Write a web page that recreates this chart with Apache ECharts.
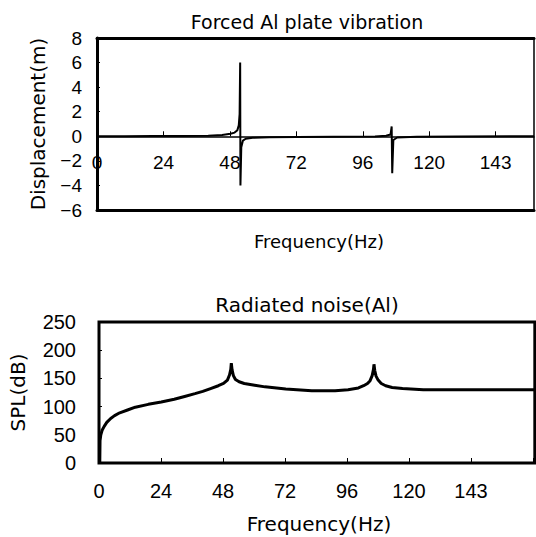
<!DOCTYPE html>
<html>
<head>
<meta charset="utf-8">
<script src="https://cdn.jsdelivr.net/npm/echarts@6/dist/echarts.min.js"></script>
<style>
html,body{margin:0;padding:0;background:#fff;}
#chart{width:536px;height:537px;}
</style>
</head>
<body>
<div id="chart"></div>
<script>
// ---- data ----
const xTickLabels = ['0', '24', '48', '72', '96', '120', '143'];
const xStep = 23.9;

const topYLabels = ['\u22126', '\u22124', '\u22122', '0', '2', '4', '6', '8'];
const bottomYLabels = ['0', '50', '100', '150', '200', '250'];

// Forced Al plate vibration: displacement (m) vs frequency (Hz)
const topFreq = [0, 10, 20, 30, 40, 45, 48, 49.5, 50.5, 51.0, 51.3, 51.5, 51.6, 51.9, 52.5, 53.5, 56, 62, 72, 85, 100, 104, 105.6, 106.0, 106.2, 106.6, 108, 115, 130, 157.2];
const topDisp = [0, 0.01, 0.02, 0.03, 0.05, 0.1, 0.2, 0.3, 0.5, 0.9, 1.8, 6.0, -4.0, -0.9, -0.35, -0.2, -0.12, -0.08, -0.05, -0.03, -0.01, 0.05, 0.15, 0.8, -3.0, -0.3, -0.1, -0.04, -0.02, 0];

// Radiated noise (Al): SPL (dB) vs frequency (Hz)
const splFreq = [0.3, 0.4, 0.7, 1.2, 2, 3, 4.5, 6, 8, 11, 14, 19, 24, 29, 33, 37, 40, 43, 46, 48, 49.5, 50.3, 50.8, 51.0, 51.3, 51.8, 52.6, 54, 56, 60, 64, 72, 82, 91, 96, 100, 102, 103.5, 104.5, 105.3, 105.8, 106.0, 106.3, 106.8, 107.6, 108.8, 110.5, 113, 117, 125, 140, 168];
const splDb   = [0, 40, 50, 58, 65, 72, 79, 84, 89, 94, 99, 104, 108, 113, 118, 123, 127, 132, 137, 141, 147, 156, 166, 177, 165, 155, 148, 144, 141, 138, 135, 131, 128, 128, 130, 133, 137, 141, 146, 155, 166, 175, 164, 154, 147, 141, 137, 134, 132, 130, 130, 130];

// ---- helpers ----
function xLabel(v) {
  const idx = Math.round(v / xStep);
  if (Math.abs(v / xStep - idx) > 0.01) return '';
  return xTickLabels[idx] !== undefined ? xTickLabels[idx] : '';
}
const tickFont = 'Liberation Sans';
const nameFont = 'DejaVu Sans';

const chart = echarts.init(document.getElementById('chart'), null, {renderer: 'svg'});

const option = {
  animation: false,
  backgroundColor: '#fff',
  grid: [
    {left: 97, right: 2, top: 38, bottom: 327, show: true, borderColor: '#000', borderWidth: 1.5},
    {left: 97, right: -28, top: 322, bottom: 74, show: true, borderColor: '#000', borderWidth: 3}
  ],
  xAxis: [
    { // zero-line axis with labels (top chart); moved onto y = 0 below
      type: 'value', gridIndex: 0, min: 0, max: 157.2, interval: xStep, offset: 0,
      axisLine: {show: true, onZero: false, lineStyle: {color: '#000', width: 1.5}},
      axisTick: {show: true, inside: true, length: 5, lineStyle: {color: '#000', width: 1}},
      axisLabel: {show: true, margin: 17, color: '#000', fontSize: 19, fontFamily: tickFont, formatter: xLabel, showMaxLabel: false},
      splitLine: {show: false}
    },
    { // top frame line
      type: 'value', gridIndex: 0, position: 'top', min: 0, max: 157.2,
      axisLine: {show: true, onZero: false, lineStyle: {color: '#000', width: 3}},
      axisTick: {show: false}, axisLabel: {show: false}, splitLine: {show: false}
    },
    { // bottom frame line
      type: 'value', gridIndex: 0, position: 'bottom', min: 0, max: 157.2,
      axisLine: {show: true, onZero: false, lineStyle: {color: '#000', width: 3}},
      axisTick: {show: false}, axisLabel: {show: false}, splitLine: {show: false}
    },
    { // bottom chart x axis
      type: 'value', gridIndex: 1, min: 0, max: 168, interval: xStep,
      axisLine: {show: false},
      axisTick: {show: true, inside: true, length: 5, lineStyle: {color: '#000', width: 1}},
      axisLabel: {show: true, margin: 18, color: '#000', fontSize: 20, fontFamily: tickFont, formatter: xLabel, showMaxLabel: false},
      splitLine: {show: false}
    }
  ],
  yAxis: [
    {
      type: 'value', gridIndex: 0, min: -6, max: 8, interval: 2,
      name: 'Displacement(m)', nameLocation: 'middle', nameRotate: 90, nameGap: 49,
      nameTextStyle: {color: '#000', fontSize: 20, fontFamily: nameFont},
      axisLine: {show: true, onZero: false, lineStyle: {color: '#000', width: 3}},
      axisTick: {show: true, inside: true, length: 3, lineStyle: {color: '#000', width: 1}},
      axisLabel: {show: true, margin: 15, color: '#000', fontSize: 19, fontFamily: tickFont,
        formatter: v => topYLabels[Math.round((v + 6) / 2)] || ''},
      splitLine: {show: false}
    },
    {
      type: 'value', gridIndex: 1, min: 0, max: 250, interval: 50,
      name: 'SPL(dB)', nameLocation: 'middle', nameRotate: 90, nameGap: 71,
      nameTextStyle: {color: '#000', fontSize: 20, fontFamily: nameFont},
      axisLine: {show: false},
      axisTick: {show: true, inside: true, length: 3, lineStyle: {color: '#000', width: 1}},
      axisLabel: {show: true, margin: 23, color: '#000', fontSize: 20, fontFamily: tickFont,
        formatter: v => bottomYLabels[Math.round(v / 50)] || ''},
      splitLine: {show: false}
    }
  ],
  series: [
    {
      type: 'line', xAxisIndex: 0, yAxisIndex: 0, showSymbol: false, symbol: 'none',
      lineStyle: {color: '#000', width: 2}, z: 5,
      data: topFreq.map((f, i) => [f, topDisp[i]])
    },
    {
      type: 'line', xAxisIndex: 3, yAxisIndex: 1, showSymbol: false, symbol: 'none',
      lineStyle: {color: '#000', width: 3}, z: 5,
      data: splFreq.map((f, i) => [f, splDb[i]])
    }
  ],
  graphic: [
    {type: 'text', x: 307, y: 22, style: {text: 'Forced Al plate vibration', fill: '#000', fontSize: 19, fontFamily: nameFont, align: 'center', verticalAlign: 'middle'}},
    {type: 'text', x: 319, y: 241, style: {text: 'Frequency(Hz)', fill: '#000', fontSize: 18, fontFamily: nameFont, align: 'center', verticalAlign: 'middle'}},
    {type: 'text', x: 307, y: 305, style: {text: 'Radiated noise(Al)', fill: '#000', fontSize: 20, fontFamily: nameFont, align: 'center', verticalAlign: 'middle'}},
    {type: 'text', x: 319, y: 524, style: {text: 'Frequency(Hz)', fill: '#000', fontSize: 20, fontFamily: nameFont, align: 'center', verticalAlign: 'middle'}}
  ]
};
chart.setOption(option);

// place the labelled x axis of the top chart on the y = 0 line (taken from the y scale)
const zeroY = chart.convertToPixel({yAxisIndex: 0}, 0);
const bottomY = chart.convertToPixel({yAxisIndex: 0}, -6);
chart.setOption({xAxis: [{offset: zeroY - bottomY}]});
</script>
</body>
</html>
